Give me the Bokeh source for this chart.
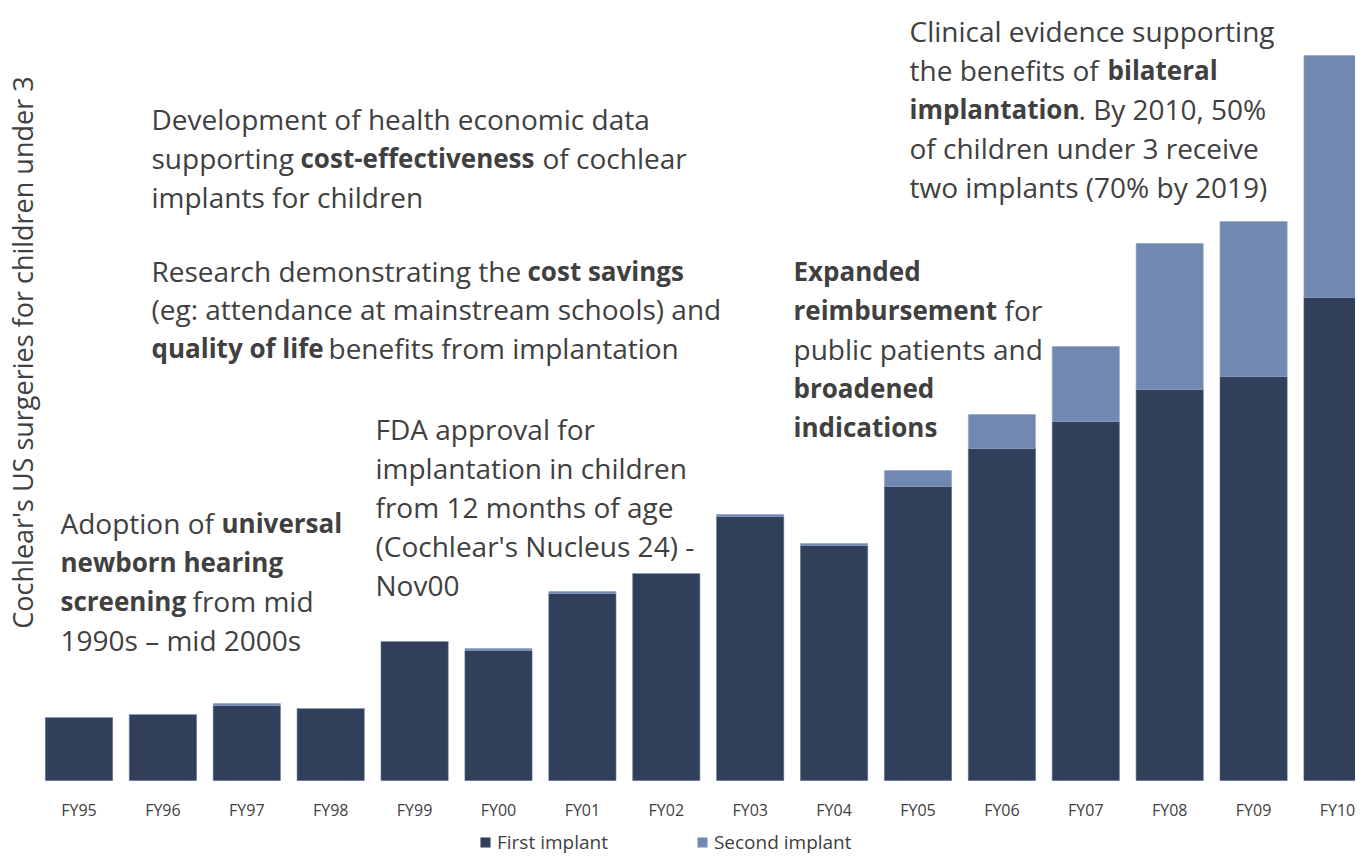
from bokeh.plotting import figure
from bokeh.models import Range1d, ColumnDataSource, Legend, LegendItem
from bokeh.core.properties import value
from bokeh.embed import file_html
from bokeh.resources import INLINE
import math

# ---- data (relative surgery counts) ----
years = ["FY95", "FY96", "FY97", "FY98", "FY99", "FY00", "FY01", "FY02",
         "FY03", "FY04", "FY05", "FY06", "FY07", "FY08", "FY09", "FY10"]
first_implant = [63, 66, 75, 72, 139, 130, 187, 207, 264, 235, 294, 332, 359, 391, 404, 483]
second_implant = [0, 0, 2, 0, 0, 2, 2, 0, 2, 2, 16, 34, 75, 146, 155, 242]
y_label = "Cochlear's US surgeries  for children  under 3"

DARK = "#323f5a"
LIGHT = "#7189b1"
TXT = "#404040"
FONT = "Open Sans"

W, H = 1355, 858
STEP = 83.9
XS = -78.5 / STEP
XE = XS + W / STEP
p = figure(width=W, height=H, output_backend="svg", toolbar_location=None,
           x_range=Range1d(XS, XE), y_range=Range1d(780 - H, 780),
           min_border=0, outline_line_color=None)
p.xaxis.visible = False
p.yaxis.visible = False
p.grid.visible = False


def px2x(px):
    return XS + px / STEP


def py2y(py):
    return 780 - py


xs = list(range(len(years)))
tops = [a + b for a, b in zip(first_implant, second_implant)]
src = ColumnDataSource(dict(x=xs, first=first_implant, top=tops, years=years))
r1 = p.vbar(x="x", bottom=0, top="first", width=0.8, source=src,
            fill_color=DARK, line_color="#56678a", line_width=0.6)
r2 = p.vbar(x="x", bottom="first", top="top", width=0.8, source=src,
            fill_color=LIGHT, line_color="#8da2c6", line_width=0.6)

# category labels
p.text(x="x", y=py2y(809), text="years", source=src, text_font=value(FONT),
       text_font_size="16px", text_color=TXT, text_align="center",
       text_baseline="middle")

# y label
p.text(x=[px2x(22)], y=[py2y(345)], text=[y_label], angle=math.pi / 2,
       text_font=value(FONT), text_font_size="27px", text_color=TXT,
       text_align="center", text_baseline="middle")

# annotation text runs: (text, page_x, page_y, bold)
runs = [
    ("Development of health economic data", 151, 118, False),
    ("supporting", 151, 157, False),
    ("cost-effectiveness", 300, 157, True),
    ("of cochlear", 542, 157, False),
    ("implants for children", 151, 196, False),
    ("Research demonstrating the", 151, 270, False),
    ("cost savings", 527, 270, True),
    ("(eg: attendance at mainstream schools) and", 151, 308, False),
    ("quality of life", 151, 347, True),
    ("benefits from implantation", 328, 347, False),
    ("Adoption of", 60, 522, False),
    ("universal", 221, 522, True),
    ("newborn hearing", 60, 561, True),
    ("screening", 60, 600, True),
    ("from mid", 192, 600, False),
    ("1990s \u2013 mid 2000s", 60, 639, False),
    ("FDA approval for", 375, 428, False),
    ("implantation in children", 375, 467, False),
    ("from 12 months of age", 375, 506, False),
    ("(Cochlear's Nucleus 24) -", 375, 545, False),
    ("Nov00", 375, 584, False),
    ("Expanded", 793, 270, True),
    ("reimbursement", 793, 309, True),
    ("for", 1004, 309, False),
    ("public patients and", 793, 348, False),
    ("broadened", 793, 387, True),
    ("indications", 793, 426, True),
    ("Clinical evidence supporting", 909, 30, False),
    ("the benefits of", 909, 69, False),
    ("bilateral", 1107, 69, True),
    ("implantation", 909, 108, True),
    (". By 2010, 50%", 1078, 108, False),
    ("of children under 3 receive", 909, 147, False),
    ("two implants (70% by 2019)", 909, 186, False),
]
for bold in (False, True):
    sel = [r for r in runs if r[3] == bold]
    s = ColumnDataSource(dict(x=[px2x(r[1]) for r in sel], y=[py2y(r[2]) for r in sel],
                              t=[r[0] for r in sel]))
    p.text(x="x", y="y", text="t", source=s, text_font=value(FONT),
           text_font_size="26px" if bold else "28px", text_color=TXT,
           text_align="left", text_baseline="middle",
           text_font_style="bold" if bold else "normal")

legend = Legend(items=[LegendItem(label="First implant", renderers=[r1]),
                       LegendItem(label="Second implant", renderers=[r2])],
                orientation="horizontal", location=(479, 3),
                glyph_width=12, glyph_height=12, label_standoff=6, spacing=88,
                padding=0, margin=0, border_line_color=None,
                background_fill_alpha=0, label_text_font=FONT,
                label_text_font_size="19px", label_text_color=TXT,
                label_height=20)
p.add_layout(legend)

open("out.html", "w").write(file_html(p, INLINE))
